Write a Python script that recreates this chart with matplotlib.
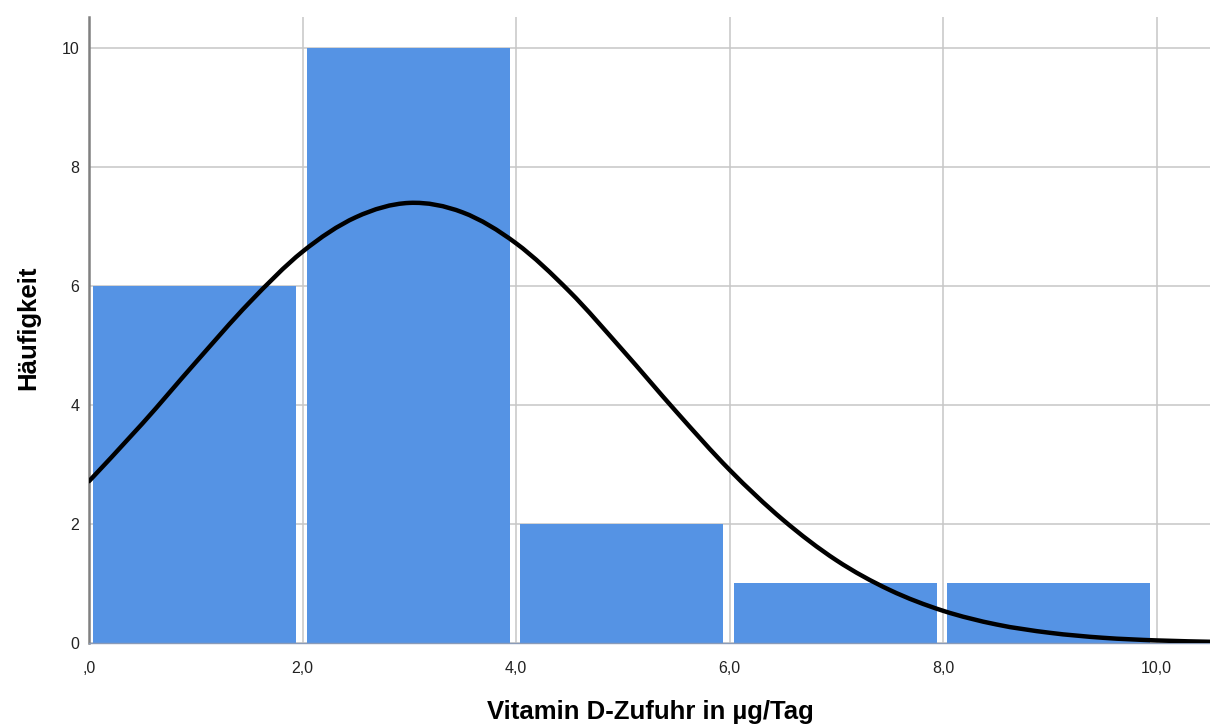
import matplotlib
matplotlib.use('Agg')
import matplotlib.pyplot as plt
import numpy as np
from matplotlib.path import Path
import matplotlib.patches as mpatches

plt.rcParams['font.family'] = ['Liberation Sans', 'DejaVu Sans']

# histogram bins (lower edges) and counts
bin_left = [0, 2, 4, 6, 8]
bin_width = 2
counts = [6, 10, 2, 1, 1]

# normal curve
curve_x = [0, 0.5, 1, 1.5, 2, 2.5, 3, 3.5, 4, 4.5, 5, 5.5, 6, 6.5, 7, 7.5, 8, 8.5, 9, 9.5, 10, 10.5]
curve_y = [2.72, 3.69, 4.72, 5.72, 6.58, 7.16, 7.40, 7.24, 6.72, 5.91, 4.92, 3.89, 2.91, 2.07,
           1.39, 0.89, 0.54, 0.31, 0.17, 0.086, 0.042, 0.019]

xticks = [0, 2, 4, 6, 8, 10]
xticklabels = [',0', '2,0', '4,0', '6,0', '8,0', '10,0']
yticks = [0, 2, 4, 6, 8, 10]
yticklabels = ['0', '2', '4', '6', '8', '10']


def smooth_path(xs, ys):
    # catmull-rom through the points, drawn as cubic bezier segments
    pts = np.column_stack([xs, ys])
    verts = [pts[0]]
    codes = [Path.MOVETO]
    n = len(pts)
    for i in range(n - 1):
        p0 = pts[max(i - 1, 0)]
        p1 = pts[i]
        p2 = pts[i + 1]
        p3 = pts[min(i + 2, n - 1)]
        c1 = p1 + (p2 - p0) / 6.0
        c2 = p2 - (p3 - p1) / 6.0
        verts += [c1, c2, p2]
        codes += [Path.CURVE4] * 3
    return Path(verts, codes)


fig = plt.figure(figsize=(12.1, 7.24), dpi=100)
ax = fig.add_axes([0.0736, 0.112, 0.9264, 0.864])

ax.bar([b + 0.04 for b in bin_left], counts, width=bin_width - 0.1, align='edge',
       color='#5593e4', edgecolor='none', zorder=2)

ax.add_patch(mpatches.PathPatch(smooth_path(curve_x, curve_y), facecolor='none',
                                edgecolor='black', linewidth=3.2, zorder=3,
                                capstyle='round'))

ax.set_xlim(0, 10.5)
ax.set_ylim(0, 10.52)
ax.set_xticks(xticks)
ax.set_xticklabels(xticklabels)
ax.set_yticks(yticks)
ax.set_yticklabels(yticklabels)
ax.grid(True, color='#c6c6c6', linewidth=1.1, zorder=0)
ax.set_axisbelow(True)
ax.tick_params(length=0, labelsize=11.5, colors='#222222')
ax.tick_params(axis='x', pad=13)
ax.tick_params(axis='y', pad=7)

for s in ['top', 'right']:
    ax.spines[s].set_visible(False)
ax.spines['left'].set_color('#808080')
ax.spines['left'].set_linewidth(1.8)
ax.spines['bottom'].set_color('#8a9bb8')
ax.spines['bottom'].set_linewidth(1.0)

fig.text(650 / 1210, 1 - 712 / 724, 'Vitamin D-Zufuhr in µg/Tag', fontsize=18.5,
         fontweight='bold', ha='center', va='center')
fig.text(28 / 1210, 1 - 328 / 724, 'Häufigkeit', fontsize=18.5, fontweight='bold',
         rotation=90, ha='center', va='center')

fig.savefig('out.png', dpi=100)
